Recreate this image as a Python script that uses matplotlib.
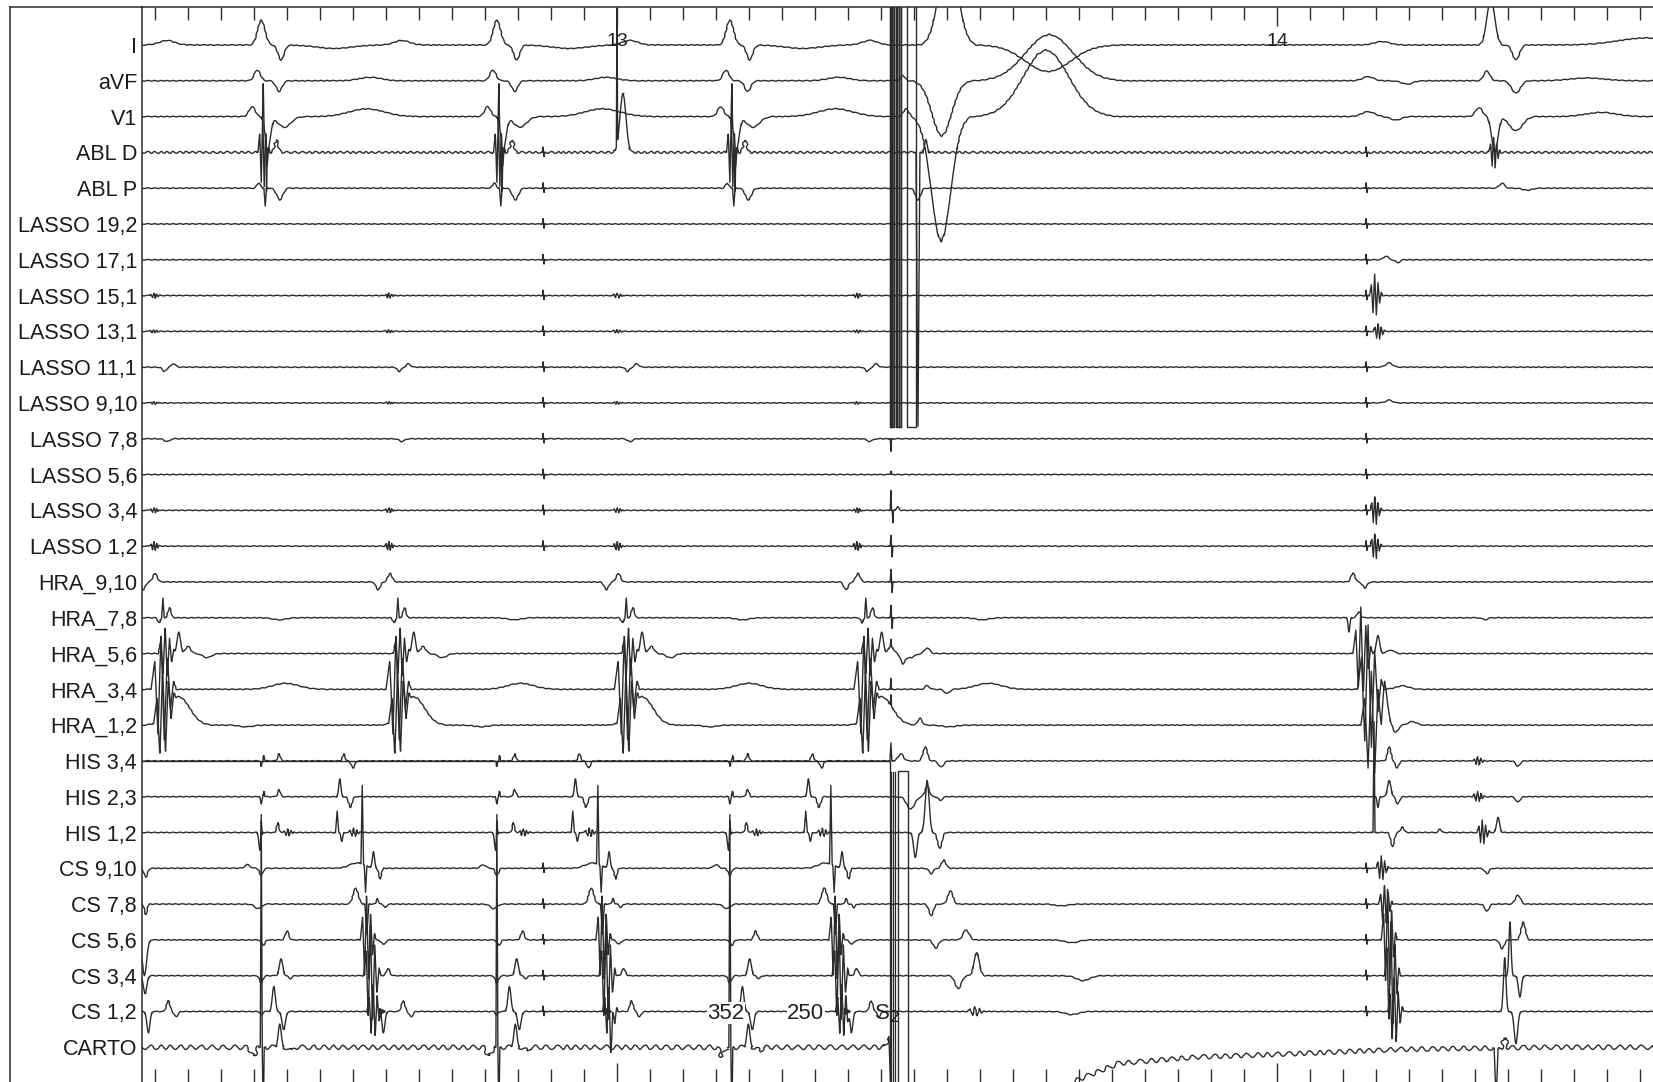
import numpy as np
import matplotlib
matplotlib.use("Agg")
import matplotlib.pyplot as plt
from matplotlib.patches import Rectangle
from matplotlib.lines import Line2D

plt.rcParams['font.family'] = ['Liberation Sans', 'DejaVu Sans']

# channel names, top to bottom
channels = ["I", "aVF", "V1", "ABL D", "ABL P",
            "LASSO 19,2", "LASSO 17,1", "LASSO 15,1", "LASSO 13,1", "LASSO 11,1",
            "LASSO 9,10", "LASSO 7,8", "LASSO 5,6", "LASSO 3,4", "LASSO 1,2",
            "HRA_9,10", "HRA_7,8", "HRA_5,6", "HRA_3,4", "HRA_1,2",
            "HIS 3,4", "HIS 2,3", "HIS 1,2",
            "CS 9,10", "CS 7,8", "CS 5,6", "CS 3,4", "CS 1,2", "CARTO"]

# time window (ms) and beat times
t_start, t_end = 12280, 14570
a_times = [12318, 12674, 13020, 13383]   # atrial activations
v_times = [12461, 12818, 13171]          # ventricular beats before the extrastimulus
stim_ms = 13415                           # S2
pip_times = [12888, 14135]                # small marker pips

# events: (ref, time/offset ms, shape, amplitude in channel units, half width ms)
# ref "V" -> repeated on v_times, "A" -> repeated on a_times, "@" -> absolute time
ev_I = [("A", 0, "b", 0.13, 35), ("V", 0, "b", 0.7, 17), ("V", 30, "b", -0.42, 14),
        ("V", 110, "b", -0.1, 80), ("@", 13502, "b", 2.6, 42), ("@", 13653, "b", -0.75, 105),
        ("@", 14159, "b", 0.1, 35), ("@", 14324, "b", 1.3, 18), ("@", 14362, "b", -0.42, 16),
        ("@", 14560, "b", 0.2, 130)]
ev_aVF = [("V", -6, "b", 0.3, 14), ("V", 27, "b", -0.3, 14), ("V", 165, "b", 0.1, 50),
          ("@", 13433, "b", 0.15, 10), ("@", 13492, "b", -1.55, 45), ("@", 13655, "b", 1.3, 110),
          ("@", 14138, "b", 0.12, 25), ("@", 14197, "b", -0.1, 25), ("@", 14318, "b", 0.28, 14),
          ("@", 14362, "b", -0.35, 20), ("@", 14470, "b", 0.08, 80)]
ev_V1 = [("V", -14, "b", 0.28, 14), ("V", 10, "b", -0.9, 12), ("V", 35, "b", -0.3, 30),
         ("V", 160, "b", 0.22, 80), ("V", 3, "s", 1.1, 1.2), ("V", 8, "s", -1.3, 1.2),
         ("@", 13438, "b", 0.22, 12), ("@", 13491, "b", -3.5, 45), ("@", 13650, "b", 1.87, 105),
         ("@", 14138, "b", 0.14, 30), ("@", 14180, "b", -0.1, 25), ("@", 14306, "b", 0.25, 16),
         ("@", 14330, "b", -1.0, 14), ("@", 14362, "b", -0.4, 30), ("@", 14491, "b", 0.12, 70)]
ev_ABLD = [("V", 4, "f", 1.1, 9), ("V", 23, "b", 0.35, 8), ("@", 13000, "s", 3.8, 1.0),
           ("@", 13009, "b", 1.65, 14), ("@", 13456, "s", -7.65, 3), ("@", 13468, "b", 0.36, 6),
           ("@", 14330, "f", 0.5, 9)]
ev_ABLP = [("V", -4, "b", 0.14, 8), ("V", 6, "s", -0.5, 2), ("V", 28, "b", -0.33, 14),
           ("@", 13456, "b", -0.33, 12), ("@", 14341, "b", 0.14, 12), ("@", 14379, "b", -0.06, 20)]
ev_L19 = [("@", 13415, "s", 0.1, 1)]
ev_L17 = [("@", 14165, "b", 0.1, 12), ("@", 14183, "b", -0.08, 10)]
ev_L15 = [("A", -18, "f", 0.08, 9), ("@", 14150, "f", 0.6, 10)]
ev_L13 = [("A", -18, "f", 0.05, 9), ("@", 14155, "f", 0.25, 9)]
ev_L11 = [("A", -4, "b", -0.12, 9), ("A", 10, "b", 0.1, 9), ("@", 14170, "b", 0.12, 15)]
ev_L9 = [("A", -18, "f", 0.04, 8), ("@", 14170, "b", 0.08, 15)]
ev_L7 = [("A", 0, "b", -0.08, 12), ("@", 13415, "s", -0.35, 1)]
ev_L5 = [("@", 13415, "s", 0.1, 1)]
ev_L3 = [("A", -18, "f", 0.08, 8), ("@", 13415, "s", 0.55, 1), ("@", 13418, "s", -0.35, 1),
         ("@", 13425, "b", 0.1, 6), ("@", 14150, "f", 0.45, 9)]
ev_L1 = [("A", -18, "f", 0.14, 8), ("@", 13415, "s", 0.3, 1), ("@", 13417, "s", -0.3, 1),
         ("@", 14150, "f", 0.4, 9)]
ev_H9 = [("A", -36, "b", -0.22, 10), ("A", -18, "b", 0.24, 10), ("@", 13415, "s", 0.35, 1),
         ("@", 13417, "s", -0.3, 1), ("@", 14115, "b", 0.25, 9), ("@", 14133, "b", -0.17, 10)]
ev_H7 = [("A", -12, "b", -0.14, 6), ("A", -6, "s", 0.55, 2), ("A", 4, "b", 0.28, 7),
         ("A", 170, "b", -0.06, 30), ("@", 13415, "s", 0.35, 1), ("@", 13417, "s", -0.3, 1),
         ("@", 14109, "b", -0.4, 4), ("@", 14124, "b", 0.17, 8), ("@", 14315, "b", -0.06, 12)]
ev_H5 = [("A", 0, "f", 0.75, 13), ("A", 18, "b", 0.6, 8), ("A", 32, "b", 0.2, 12),
         ("A", 61, "b", -0.12, 20), ("@", 13415, "s", 0.2, 1), ("@", 13433, "b", -0.26, 10),
         ("@", 13470, "b", 0.16, 12), ("@", 14130, "f", 1.3, 15), ("@", 14153, "b", 0.5, 8),
         ("@", 14172, "b", 0.1, 15)]
ev_H3 = [("A", -5, "f", 1.6, 19), ("A", 180, "b", 0.17, 60), ("@", 13415, "s", 0.3, 1),
         ("@", 13470, "b", 0.11, 10), ("@", 13500, "b", -0.12, 12), ("@", 14142, "f", 1.8, 20),
         ("@", 14190, "b", 0.1, 30)]
ev_H1 = [("A", -3, "f", 1.3, 17), ("A", 18, "b", 0.8, 50), ("A", 120, "b", -0.05, 30),
         ("@", 13415, "s", 0.3, 1), ("@", 13459, "b", 0.19, 10), ("@", 14147, "f", 1.5, 20),
         ("@", 14163, "b", 1.0, 14), ("@", 14180, "b", -0.2, 12), ("@", 14205, "b", 0.1, 20)]
ev_HIS34 = [("V", 0, "b", -0.15, 3), ("V", 4, "s", 0.15, 2), ("V", 27, "b", 0.2, 6),
            ("V", 125, "b", 0.2, 6), ("V", 139, "b", -0.2, 8), ("@", 13415, "s", 0.5, 1.5),
            ("@", 13430, "b", 0.2, 12), ("@", 13467, "b", 0.4, 10), ("@", 13491, "b", -0.17, 12),
            ("@", 14170, "b", 0.4, 8), ("@", 14182, "b", -0.2, 8), ("@", 14306, "f", 0.12, 10),
            ("@", 14365, "b", -0.15, 10)]
ev_HIS23 = [("V", 0, "b", -0.2, 3), ("V", 4, "s", 0.15, 2), ("V", 27, "b", 0.2, 6),
            ("V", 119, "b", 0.5, 5), ("V", 135, "b", -0.3, 8), ("@", 13445, "b", -0.35, 18),
            ("@", 13470, "b", 0.3, 10), ("@", 13490, "b", -0.1, 10), ("@", 14153, "b", -0.3, 4),
            ("@", 14170, "b", 0.45, 8), ("@", 14183, "b", -0.2, 8), ("@", 14306, "f", 0.15, 10),
            ("@", 14365, "b", -0.15, 10)]
ev_HIS12 = [("V", -2, "b", -0.5, 5), ("V", 0, "s", 0.56, 1.5), ("V", 25, "b", 0.28, 5),
            ("V", 42, "f", 0.1, 10), ("V", 115, "s", 0.6, 2.5), ("V", 122, "b", -0.25, 4),
            ("V", 142, "f", 0.12, 10), ("@", 13452, "b", -0.7, 8), ("@", 13470, "b", 1.45, 9),
            ("@", 13489, "b", -0.45, 10), ("@", 14147, "s", 3.1, 1.5), ("@", 14175, "b", -0.4, 8),
            ("@", 14190, "b", 0.15, 8), ("@", 14247, "b", 0.1, 6), ("@", 14313, "f", 0.35, 10),
            ("@", 14335, "b", 0.42, 7)]
ev_CS910 = [("V", -21, "b", 0.1, 12), ("V", 0, "b", -0.2, 8), ("V", 145, "b", 0.15, 35),
            ("V", 153, "s", 2.2, 2), ("V", 158, "s", -0.75, 2), ("V", 170, "b", 0.45, 5),
            ("V", 180, "b", -0.3, 6), ("@", 12286, "b", -0.25, 8), ("@", 13476, "b", -0.15, 10),
            ("@", 13495, "b", 0.23, 10), ("@", 14160, "f", 0.35, 10), ("@", 14318, "b", -0.15, 10)]
ev_CS78 = [("V", -5, "b", -0.13, 15), ("V", 143, "b", 0.45, 12), ("V", 160, "s", -0.85, 3),
           ("V", 176, "b", 0.15, 5), ("V", 188, "b", -0.1, 6), ("@", 12286, "b", -0.3, 6),
           ("@", 13476, "b", -0.33, 10), ("@", 13505, "b", 0.37, 12), ("@", 13673, "b", -0.05, 30),
           ("@", 14165, "f", 0.6, 11), ("@", 14318, "b", -0.2, 10), ("@", 14365, "b", 0.25, 12)]
ev_CS56 = [("V", 3, "b", -0.15, 8), ("V", 39, "b", 0.25, 8), ("V", 162, "f", 1.3, 12),
           ("V", 185, "b", -0.12, 10), ("@", 12284, "b", -1.0, 10), ("@", 13483, "b", -0.23, 12),
           ("@", 13529, "b", 0.28, 14), ("@", 13689, "b", -0.08, 30), ("@", 14170, "f", 1.5, 12),
           ("@", 14341, "b", -0.25, 10), ("@", 14373, "b", 0.5, 10)]
ev_CS34 = [("V", 0, "b", -0.2, 8), ("V", 30, "b", 0.47, 8), ("V", 44, "b", -0.08, 8),
           ("V", 168, "f", 1.5, 13), ("V", 192, "b", 0.2, 8), ("@", 12285, "b", -0.5, 8),
           ("@", 13517, "b", -0.37, 14), ("@", 13545, "b", 0.65, 12), ("@", 13706, "b", -0.14, 30),
           ("@", 14175, "f", 1.6, 12), ("@", 14353, "b", 1.5, 5), ("@", 14368, "b", -0.6, 7)]
ev_CS12 = [("A", -28, "b", -0.6, 7), ("A", 2, "b", 0.3, 8), ("A", 14, "b", -0.15, 8),
           ("V", 0, "b", -0.1, 6), ("V", 19, "b", 0.7, 7), ("V", 34, "b", -0.5, 8),
           ("V", 172, "f", 0.8, 12), ("@", 13545, "f", 0.15, 14), ("@", 13689, "b", -0.09, 30),
           ("@", 14180, "f", 1.0, 12), ("@", 14345, "b", 1.5, 6), ("@", 14362, "b", -0.9, 8)]
ev_CARTO = [("V", -12, "b", -0.25, 10), ("V", 0, "s", 6.5, 1.5), ("V", 3, "s", -2.0, 1.5),
            ("V", 28, "b", 0.65, 7), ("V", 45, "b", -0.1, 8), ("@", 14332, "s", -1.5, 3),
            ("@", 14345, "b", 0.3, 6)]
# CARTO saturates after the stimulus and drifts back
carto_drift_t = [12280, 13405, 13412, 13418, 13690, 13760, 13870, 14000, 14183, 14400, 14570]
carto_drift_v = [0, 0, 0.3, -3.0, -0.97, -0.45, -0.28, -0.2, -0.06, 0, 0]

events = [ev_I, ev_aVF, ev_V1, ev_ABLD, ev_ABLP, ev_L19, ev_L17, ev_L15, ev_L13, ev_L11,
          ev_L9, ev_L7, ev_L5, ev_L3, ev_L1, ev_H9, ev_H7, ev_H5, ev_H3, ev_H1,
          ev_HIS34, ev_HIS23, ev_HIS12, ev_CS910, ev_CS78, ev_CS56, ev_CS34, ev_CS12, ev_CARTO]

pip_channels = [3, 4, 5, 6, 7, 8, 9, 10, 11, 12, 13, 14, 23, 24, 25, 26, 27]
# baseline noise (sketch amplitude px, period px) per channel
noise_scale = [0.35] * 29
noise_scale[3] = 1.0
noise_scale[28] = 2.2
noise_len = [7] * 29
noise_len[28] = 11

cs12_marks = [12644, 12986, 13348]

# deflection shapes on u in [-1, 1]
SHAPES = {
    "b": ([-1, -0.875, -0.75, -0.625, -0.5, -0.375, -0.25, -0.125, 0,
           0.125, 0.25, 0.375, 0.5, 0.625, 0.75, 0.875, 1],
          [0, 0.025, 0.067, 0.153, 0.301, 0.509, 0.741, 0.928, 1,
           0.928, 0.741, 0.509, 0.301, 0.153, 0.067, 0.025, 0]),
    "s": ([-1, 0, 1], [0, 1, 0]),
    "f": ([-1, -0.7, -0.45, -0.2, 0.05, 0.3, 0.55, 0.8, 1],
          [0, 0.5, -0.8, 1, -0.9, 0.6, -0.35, 0.15, 0]),
}

t = np.arange(t_start, t_end + 0.5, 0.5)


def build(ev, k):
    y = np.zeros_like(t)
    for ref, dt, shape, amp, w in ev:
        if ref == "V":
            centers = [v + dt for v in v_times]
        elif ref == "A":
            centers = [a + dt for a in a_times]
        else:
            centers = [dt]
        u, s = SHAPES[shape]
        for c in centers:
            y += amp * np.interp(t, c + np.array(u) * w, s, left=0, right=0)
    if k in pip_channels:
        for p in pip_times:
            y += 0.15 * np.interp(t, [p - 0.8, p, p + 0.8], [0, 1, 0], left=0, right=0)
            y -= 0.12 * np.interp(t, [p + 0.7, p + 1.5, p + 2.3], [0, 1, 0], left=0, right=0)
    return y


fig = plt.figure(figsize=(16.53, 10.82), dpi=100)
top = 1 - 7.3 / 1082
ax = fig.add_axes([141.6 / 1653, 0, 1 - 141.6 / 1653, top])

ink = "#2b2b2b"
for k, ev in enumerate(events):
    y = build(ev, k)
    if channels[k] == "CARTO":
        y = y + np.interp(t, carto_drift_t, carto_drift_v)
    y = y - k
    # steep parts are drawn clean, the rest with a little baseline noise
    steep = np.abs(np.gradient(y, t)) > 0.1
    core = np.convolve(steep, np.ones(5), "same") > 0
    edge = np.convolve(steep, np.ones(9), "same") > 0
    ln, = ax.plot(t, np.where(core, np.nan, y), color=ink, lw=1.0)
    ln.set_sketch_params(noise_scale[k], noise_len[k], 1.6)
    ax.plot(t, np.where(edge, y, np.nan), color=ink, lw=1.0)

# stimulus artefact boxes
up_bot = -10.67
for x in [13413, 13415, 13417, 13420, 13423, 13425, 13428, 13430]:
    ax.plot([x, x], [up_bot, 2], color=ink, lw=0.9)
for x0, x1, fc in [(13413, 13420, "#666666"), (13423, 13430, "#999999"), (13440, 13453, "none")]:
    ax.add_patch(Rectangle((x0, up_bot), x1 - x0, 12, facecolor=fc, edgecolor=ink, lw=1.0))
low_top = -20.0
ax.plot([t_start, 13413, 13413], [low_top, low_top, -30], color=ink, lw=1.0)
for x in [13415, 13418, 13421]:
    ax.plot([x, x], [low_top - 0.3, -30], color=ink, lw=0.9)
ax.add_patch(Rectangle((13426, -30), 15, 30 - 20.28, facecolor="none", edgecolor=ink, lw=1.0))

ax.plot(cs12_marks, [-27] * len(cs12_marks), ls="none", marker=">", ms=5, color=ink)

# annotations on CS 1,2
ax.text(13165, -27.05, "352", fontsize=16, ha="center", va="center", color="#222222",
        bbox=dict(facecolor="white", edgecolor="none", pad=0.5))
ax.text(13286, -27.05, "250", fontsize=16, ha="center", va="center", color="#222222",
        bbox=dict(facecolor="white", edgecolor="none", pad=0.5))
ax.text(13409, -27.05, "S$_2$", fontsize=16, ha="center", va="center", color="#222222")

# second markers
for s in [13000, 14000]:
    ax.text(s, 0.11, str(s // 1000), fontsize=14, ha="center", va="center", color="#222222")

ax.set_xlim(12279.7, 14569.7)
ax.set_ylim(-28.97, 1.053)
ax.set_xticks([13000, 14000])
ax.set_xticks(np.arange(12300, 14570, 50), minor=True)
ax.tick_params(axis="x", which="major", direction="in", top=True, bottom=True,
               labelbottom=False, labeltop=False, length=14, width=1.0, color=ink)
ax.tick_params(axis="x", which="minor", direction="in", top=True, bottom=True,
               length=9.4, width=1.0, color=ink)
ax.set_yticks(-np.arange(len(channels)))
ax.set_yticklabels(channels)
ax.tick_params(axis="y", length=0, pad=3.3, labelsize=15.5, labelcolor="#1a1a1a")
for side in ["right", "bottom"]:
    ax.spines[side].set_visible(False)
for side in ["left", "top"]:
    ax.spines[side].set_linewidth(1.1)
    ax.spines[side].set_color(ink)

# outer frame
x_frame = 9.6 / 1653
fig.add_artist(Line2D([x_frame, x_frame], [0, top], transform=fig.transFigure, color=ink, lw=1.1))
fig.add_artist(Line2D([x_frame, 141.6 / 1653], [top, top], transform=fig.transFigure, color=ink, lw=1.1))

fig.savefig("out.png", dpi=100, facecolor="white")
